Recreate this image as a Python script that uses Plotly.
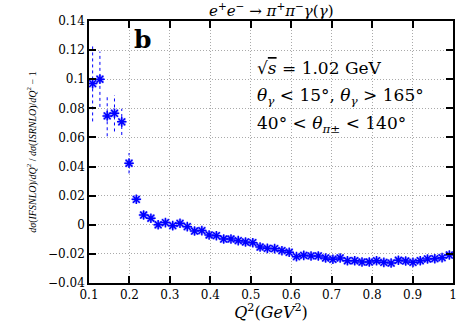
import plotly.graph_objects as go

q2 = [0.109 + 0.018 * i for i in range(50)]
ratio = [0.097, 0.100, 0.0748, 0.0766, 0.0707, 0.0423, 0.0175, 0.0067, 0.0045, 0.0,
         0.0015, -0.0006, 0.001, -0.0013, -0.0043, -0.0040, -0.0070, -0.0075, -0.0098, -0.0098,
         -0.0109, -0.0118, -0.0123, -0.0153, -0.0162, -0.0164, -0.0178, -0.0189, -0.0219, -0.0210,
         -0.0214, -0.0214, -0.0228, -0.0237, -0.0228, -0.0247, -0.0247, -0.0256, -0.0256, -0.0247,
         -0.0258, -0.0263, -0.0244, -0.0249, -0.0258, -0.0247, -0.0235, -0.0233, -0.0226, -0.0208]
err = [0.026, 0.019, 0.014, 0.0125, 0.009, 0.007, 0.002] + [0.0008] * 43

FONT = "Liberation Serif"
TFONT = "DejaVu Serif"

ex, ey = [], []
for x, y, e in zip(q2, ratio, err):
    ex += [x, x, None]
    ey += [y - e, y + e, None]

fig = go.Figure()
fig.add_trace(go.Scatter(x=ex, y=ey, mode="lines",
                         line=dict(color="#0000ff", width=1, dash="dot"),
                         hoverinfo="skip", showlegend=False))
fig.add_trace(go.Scatter(x=q2, y=ratio, mode="markers",
                         marker=dict(symbol="square", size=8, color="rgba(110,110,255,0.45)",
                                     line=dict(width=0)),
                         showlegend=False))
fig.add_trace(go.Scatter(x=q2, y=ratio, mode="markers",
                         marker=dict(symbol="asterisk-open", size=8, color="#0000ff",
                                     line=dict(color="#0000ff", width=1.5)),
                         showlegend=False))

axis_common = dict(showline=True, linecolor="black", linewidth=1.5, mirror="ticks",
                   ticks="inside", ticklen=7, tickwidth=1.5, tickcolor="black",
                   showgrid=True, gridcolor="#aaaaaa", griddash="1px,2px", gridwidth=1,
                   zeroline=False, tickfont=dict(family=TFONT, size=12, color="black"))

fig.update_xaxes(range=[0.1, 1.0], dtick=0.1, tick0=0.1, **axis_common,
                 title=dict(text="<i>Q</i><sup>2</sup>(<i>GeV</i><sup>2</sup>)",
                            font=dict(family=TFONT, size=16, color="black"), standoff=3))
fig.update_yaxes(range=[-0.04, 0.14], dtick=0.02, tick0=0, **axis_common,
                 tickformat="~g",
                 title=dict(text="<i>dσ</i>(<i>IFSNLO</i>)/<i>dQ</i><sup>2</sup> / "
                                 "<i>dσ</i>(<i>ISRNLO</i>)/<i>dQ</i><sup>2</sup> − 1",
                            font=dict(family=FONT, size=10, color="black"), standoff=10))

ann = [
    dict(x=0.5, y=1.0, xref="paper", yref="paper", yanchor="middle", yshift=11,
         text="<i>e</i><sup>+</sup><i>e</i><sup>−</sup> → <i>π</i><sup>+</sup><i>π</i><sup>−</sup><i>γ</i>(<i>γ</i>)",
         font=dict(family=TFONT, size=15), showarrow=False),
    dict(x=0.148, y=0.93, xref="paper", yref="paper", xanchor="center", yanchor="middle",
         text="<b>b</b>", font=dict(family=TFONT, size=25), showarrow=False),
    dict(x=0.455, y=0.82, xref="paper", yref="paper", xanchor="left", yanchor="middle",
         text="√<span style='text-decoration:overline'><i>s</i></span> = 1.02 GeV",
         font=dict(family=TFONT, size=17), showarrow=False),
    dict(x=0.455, y=0.71, xref="paper", yref="paper", xanchor="left", yanchor="middle",
         text="<i>θ</i><sub><i>γ</i></sub> &lt; 15°, <i>θ</i><sub><i>γ</i></sub> &gt; 165°",
         font=dict(family=TFONT, size=17), showarrow=False),
    dict(x=0.455, y=0.605, xref="paper", yref="paper", xanchor="left", yanchor="middle",
         text="40° &lt; <i>θ</i><sub><i>π</i>±</sub> &lt; 140°",
         font=dict(family=TFONT, size=17), showarrow=False),
]

fig.update_layout(width=463, height=322, margin=dict(l=89, r=6, t=21, b=39),
                  plot_bgcolor="white", paper_bgcolor="white",
                  font=dict(family=FONT, color="black"), annotations=ann)

fig.write_html("out.html", config={"displayModeBar": False},
               post_script="document.body.style.margin='0';document.body.style.overflow='hidden';")
